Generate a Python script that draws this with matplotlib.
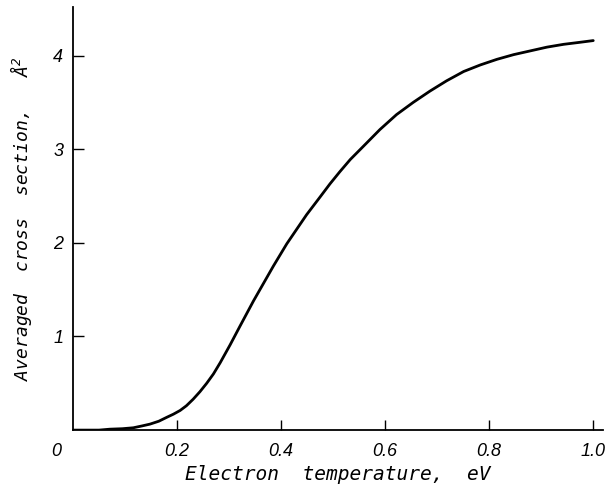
import matplotlib.pyplot as plt

# electron temperature (eV) vs averaged cross section (A^2)
temperature = [0.0, 0.05, 0.071, 0.095, 0.116, 0.133, 0.148, 0.165, 0.180, 0.193,
               0.206, 0.218, 0.231, 0.244, 0.257, 0.270, 0.283, 0.302, 0.321, 0.347,
               0.385, 0.411, 0.449, 0.475, 0.494, 0.513, 0.533, 0.558, 0.590, 0.622,
               0.654, 0.686, 0.718, 0.751, 0.783, 0.815, 0.847, 0.879, 0.911, 0.943,
               0.972, 1.0]
cross_section = [0.0, 0.0, 0.01, 0.015, 0.025, 0.045, 0.064, 0.095, 0.136, 0.17,
                 0.21, 0.26, 0.33, 0.41, 0.50, 0.60, 0.72, 0.91, 1.11, 1.38,
                 1.75, 1.99, 2.30, 2.49, 2.63, 2.76, 2.89, 3.03, 3.21, 3.37,
                 3.50, 3.62, 3.73, 3.83, 3.90, 3.96, 4.01, 4.05, 4.09, 4.12,
                 4.14, 4.16]

x_ticks = [0.2, 0.4, 0.6, 0.8, 1.0]
x_tick_labels = ['0.2', '0.4', '0.6', '0.8', '1.0']
y_ticks = [1, 2, 3, 4]
y_tick_labels = ['1', '2', '3', '4']

plt.rcParams['font.family'] = ['DejaVu Sans Mono', 'DejaVu Sans']
plt.rcParams['font.style'] = 'italic'
plt.rcParams['mathtext.default'] = 'regular'

fig = plt.figure(figsize=(6.08, 4.91), dpi=100)
ax = fig.add_axes([0.120, 0.124, 0.872, 0.862])

ax.plot(temperature, cross_section, color='black', linewidth=2.0,
        solid_joinstyle='round', solid_capstyle='round')

ax.set_xlim(0, 1.019)
ax.set_ylim(0, 4.52)

ax.spines['top'].set_visible(False)
ax.spines['right'].set_visible(False)
ax.spines['left'].set_linewidth(1.3)
ax.spines['bottom'].set_linewidth(1.3)

tick_font = {'family': 'Liberation Sans', 'style': 'italic', 'size': 13}
ax.set_xticks(x_ticks)
ax.set_xticklabels(x_tick_labels, fontdict=tick_font)
ax.set_yticks(y_ticks)
ax.set_yticklabels(y_tick_labels, fontdict=tick_font)
ax.tick_params(axis='x', direction='in', length=7, width=1.0, pad=9)
ax.tick_params(axis='y', direction='in', length=8, width=1.0, pad=7)

# lone "0" at the origin corner
ax.annotate('0', xy=(0, 0), xytext=(-12, -9), textcoords='offset points',
            ha='center', va='top', fontsize=13, family='Liberation Sans',
            fontstyle='italic')

ax.set_xlabel('Electron  temperature,  eV', fontsize=14, labelpad=4)
ax.set_ylabel('Averaged  cross  section,   Å$^2$', fontsize=13, labelpad=14)

fig.savefig('out.png', dpi=100)
